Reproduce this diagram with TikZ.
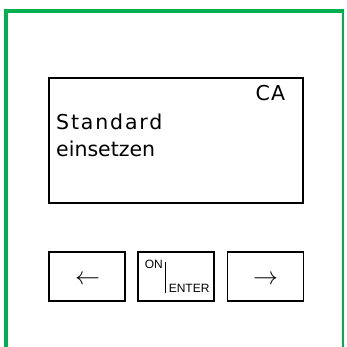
\documentclass[tikz,border=0pt]{standalone}
\usepackage{fontspec}
\setmainfont{DejaVu Sans}
\newfontfamily\keyfont{Liberation Sans}
\definecolor{framegreen}{RGB}{0,176,80}
\begin{document}
\begin{tikzpicture}[x=1pt,y=-1pt,
  frameline/.style={draw=framegreen,line cap=butt},
  boxline/.style={draw=black,line width=1.2pt},
  lcdtext/.style={anchor=base west,inner sep=0pt,font=\fontsize{20.5}{24}\selectfont},
  keybox/.style={boxline,minimum width=76pt,minimum height=49pt,inner sep=0pt},
  keytext/.style={anchor=base west,inner sep=0pt,font=\keyfont\fontsize{12}{12}\selectfont},
  arrowtext/.style={anchor=base,inner sep=0pt,font=\fontsize{31}{31}\selectfont}]
\useasboundingbox (0,0) rectangle (346,347);
% green frame
\coordinate (fbl) at (6,347);
\coordinate (ftl) at (6,11.5);
\coordinate (ftr) at (343,11.5);
\coordinate (fbr) at (343,347);
\draw[frameline,line width=4pt] (fbl) -- (6,9.5);
\draw[frameline,line width=4pt] (4,11.5) -- (344,11.5);
\draw[frameline,line width=2.2pt] (ftr) -- (fbr);
% display
\node[boxline,minimum width=254pt,minimum height=125pt,inner sep=0pt] (lcd) at (176,140.5) {};
\node[lcdtext] (ca) at (255.5,101) {\addfontfeatures{LetterSpace=6}CA};
\node[lcdtext] (std) at (56,130) {\addfontfeatures{LetterSpace=9}Standard};
\node[lcdtext] (ein) at (56,156.7) {einsetzen};
% keys
\node[keybox] (kleft) at (87,276.5) {};
\node[keybox] (kenter) at (176,276.5) {};
\node[keybox] (kright) at (265.5,276.5) {};
\node[arrowtext] (aleft) at (87.5,284.5) {$\leftarrow$};
\node[arrowtext] (aright) at (265.5,284.5) {$\rightarrow$};
\node[keytext] (on) at (144.6,268.7) {ON};
\node[keytext] (enter) at (168.6,292.7) {ENTER};
\coordinate (bartop) at (165.7,262);
\coordinate (barbot) at (165.7,292.7);
\draw[line width=1.2pt] (bartop) -- (barbot);
\end{tikzpicture}
\end{document}
